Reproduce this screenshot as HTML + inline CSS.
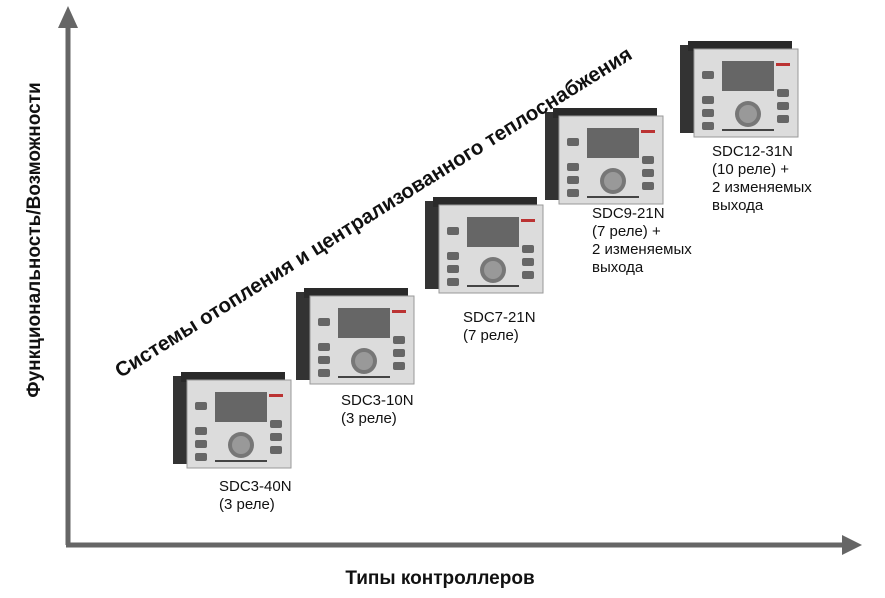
<!DOCTYPE html>
<html><head><meta charset="utf-8"><style>
body{margin:0;width:885px;height:598px;background:#fff;position:relative;overflow:hidden;font-family:"Liberation Sans",sans-serif}
.l{position:absolute;font-size:15px;line-height:18px;color:#111}
</style></head><body>
<svg width="885" height="598" style="position:absolute;left:0;top:0">
<defs>
<g id="d">
<rect x="0" y="4" width="14" height="88" fill="#333"/>
<rect x="8" y="0" width="104" height="10" fill="#2a2a2a"/>
<rect x="14" y="8" width="104" height="88" fill="#dcdcdc" stroke="#999"/>
<rect x="42" y="20" width="52" height="30" fill="#666"/>
<rect x="22" y="30" width="12" height="8" rx="2" fill="#666"/>
<rect x="22" y="55" width="12" height="8" rx="2" fill="#666"/>
<rect x="22" y="68" width="12" height="8" rx="2" fill="#666"/>
<rect x="22" y="81" width="12" height="8" rx="2" fill="#666"/>
<rect x="97" y="48" width="12" height="8" rx="2" fill="#666"/>
<rect x="97" y="61" width="12" height="8" rx="2" fill="#666"/>
<rect x="97" y="74" width="12" height="8" rx="2" fill="#666"/>
<circle cx="68" cy="73" r="13" fill="#777"/>
<circle cx="68" cy="73" r="9" fill="#999"/>
<rect x="96" y="22" width="14" height="3" fill="#b33"/>
<rect x="42" y="88" width="52" height="2" fill="#444"/>
</g>
</defs>
<line x1="68" y1="545" x2="68" y2="25" stroke="#666" stroke-width="5"/>
<polygon points="58,28 78,28 68,6" fill="#666"/>
<line x1="66" y1="545" x2="845" y2="545" stroke="#666" stroke-width="5"/>
<polygon points="842,535 842,555 862,545" fill="#666"/>
<use href="#d" transform="translate(173,372)"/>
<use href="#d" transform="translate(296,288)"/>
<use href="#d" transform="translate(425,197)"/>
<use href="#d" transform="translate(545,108)"/>
<use href="#d" transform="translate(680,41)"/>
<text x="0" y="0" transform="translate(40,240) rotate(-90)" text-anchor="middle" font-family="Liberation Sans" font-weight="bold" font-size="19" fill="#111">Функциональность/Возможности</text>
<text x="0" y="0" transform="translate(377,218) rotate(-32)" text-anchor="middle" font-family="Liberation Sans" font-weight="bold" font-size="20.5" fill="#111">Системы отопления и централизованного теплоснабжения</text>
<text x="440" y="584" text-anchor="middle" font-family="Liberation Sans" font-weight="bold" font-size="19" fill="#111">Типы контроллеров</text>
</svg>
<div class="l" style="left:219px;top:478px">SDC3-40N<br>(3 реле)</div>
<div class="l" style="left:341px;top:392px">SDC3-10N<br>(3 реле)</div>
<div class="l" style="left:463px;top:309px">SDC7-21N<br>(7 реле)</div>
<div class="l" style="left:592px;top:205px">SDC9-21N<br>(7 реле) +<br>2 изменяемых<br>выхода</div>
<div class="l" style="left:712px;top:143px">SDC12-31N<br>(10 реле) +<br>2 изменяемых<br>выхода</div>
</body></html>
